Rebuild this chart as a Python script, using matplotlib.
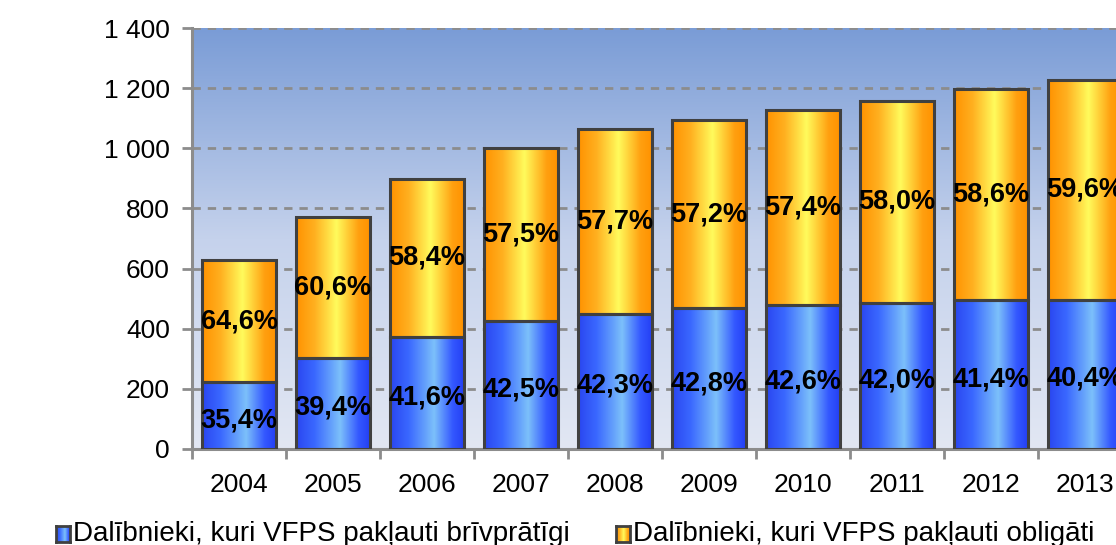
import matplotlib
matplotlib.use("Agg")
import matplotlib.pyplot as plt
import numpy as np
from matplotlib.colors import LinearSegmentedColormap
from matplotlib.ticker import FuncFormatter

plt.rcParams["font.family"] = ["Liberation Sans", "DejaVu Sans"]

YEARS = ["2004", "2005", "2006", "2007", "2008", "2009", "2010", "2011", "2012", "2013"]
TOTAL = [628, 771, 898, 1001, 1064, 1094, 1127, 1157, 1197, 1227]
SHARE_VOLUNTARY = [35.4, 39.4, 41.6, 42.5, 42.3, 42.8, 42.6, 42.0, 41.4, 40.4]
SHARE_MANDATORY = [64.6, 60.6, 58.4, 57.5, 57.7, 57.2, 57.4, 58.0, 58.6, 59.6]
LEGEND = ["Dalībnieki, kuri VFPS pakļauti brīvprātīgi",
          "Dalībnieki, kuri VFPS pakļauti obligāti"]

blue_cmap = LinearSegmentedColormap.from_list(
    "b", [(0, "#2a46f0"), (0.25, "#3a68ff"), (0.6, "#7cc0fa"), (0.85, "#3458ff"), (1, "#2440f4")])
orange_cmap = LinearSegmentedColormap.from_list(
    "o", [(0, "#ff9200"), (0.25, "#ffb020"), (0.55, "#fffb5c"), (0.85, "#ffa010"), (1, "#ff9200")])
bg_cmap = LinearSegmentedColormap.from_list("bg", ["#e2e7f3", "#c5d2ec", "#7a9cd6"])

voluntary = np.array(TOTAL) * np.array(SHARE_VOLUNTARY) / 100
mandatory = np.array(TOTAL) - voluntary
x = np.arange(len(YEARS))
width = 0.78

fig = plt.figure(figsize=(11.16, 5.45), dpi=100)
ax = fig.add_axes([192 / 1116, 96 / 545, 940 / 1116, 421 / 545])
ax.set_xlim(-0.5, len(YEARS) - 0.5)
ax.set_ylim(0, 1400)

# background gradient
grad = np.linspace(0, 1, 256).reshape(-1, 1)
ax.imshow(grad, cmap=bg_cmap, aspect="auto", origin="lower",
          extent=(-0.5, len(YEARS) - 0.5, 0, 1400), zorder=0)
for v in range(200, 1401, 200):
    ax.axhline(v, color="#8c8c8c", lw=2, ls=(0, (3, 2.5)), zorder=1)

hgrad = np.linspace(0, 1, 128).reshape(1, -1)
for i in range(len(YEARS)):
    ax.imshow(hgrad, cmap=blue_cmap, aspect="auto",
              extent=(x[i] - width / 2, x[i] + width / 2, 0, voluntary[i]), zorder=2)
    ax.imshow(hgrad, cmap=orange_cmap, aspect="auto",
              extent=(x[i] - width / 2, x[i] + width / 2, voluntary[i], TOTAL[i]), zorder=2)
ax.bar(x, voluntary, width, fill=False, edgecolor="#404040", lw=2.2, zorder=3)
ax.bar(x, mandatory, width, bottom=voluntary, fill=False, edgecolor="#404040", lw=2.2, zorder=3)

for i in range(len(YEARS)):
    ax.text(x[i], voluntary[i] / 2 - 15, f"{SHARE_VOLUNTARY[i]:.1f}%".replace(".", ","),
            ha="center", va="center", fontsize=19.5, fontweight="bold", zorder=4)
    ax.text(x[i], voluntary[i] + mandatory[i] / 2, f"{SHARE_MANDATORY[i]:.1f}%".replace(".", ","),
            ha="center", va="center", fontsize=19.5, fontweight="bold", zorder=4)

ax.set_xlim(-0.5, len(YEARS) - 0.5)
ax.set_ylim(0, 1400)
ax.set_yticks(range(0, 1401, 200))
ax.yaxis.set_major_formatter(FuncFormatter(lambda v, p: f"{int(v):,}".replace(",", " ")))
ax.set_xticks(x)
ax.set_xticklabels(YEARS)
ax.set_xticks(np.arange(-0.5, len(YEARS), 1), minor=True)
ax.tick_params(axis="x", which="major", length=0, labelsize=19, pad=17)
ax.tick_params(axis="x", which="minor", length=7, width=2, color="#8c8c8c")
ax.tick_params(axis="y", length=7, width=2, color="#8c8c8c", labelsize=19, pad=9)
for side in ["top", "right"]:
    ax.spines[side].set_visible(False)
for side in ["left", "bottom"]:
    ax.spines[side].set_color("#8c8c8c")
    ax.spines[side].set_linewidth(2.2)

# legend
for lx, label, cmap in [(56, LEGEND[0], blue_cmap), (616, LEGEND[1], orange_cmap)]:
    sq = fig.add_axes([lx / 1116, (545 - 542) / 545, 14 / 1116, 16 / 545])
    sq.imshow(hgrad, cmap=cmap, aspect="auto", extent=(0, 1, 0, 1))
    sq.set_xticks([])
    sq.set_yticks([])
    for s in sq.spines.values():
        s.set_color("#404040")
        s.set_linewidth(2)
    fig.text((lx + 17) / 1116, (545 - 541) / 545, label, fontsize=20, va="baseline", ha="left")

fig.savefig("out.png", dpi=100)
